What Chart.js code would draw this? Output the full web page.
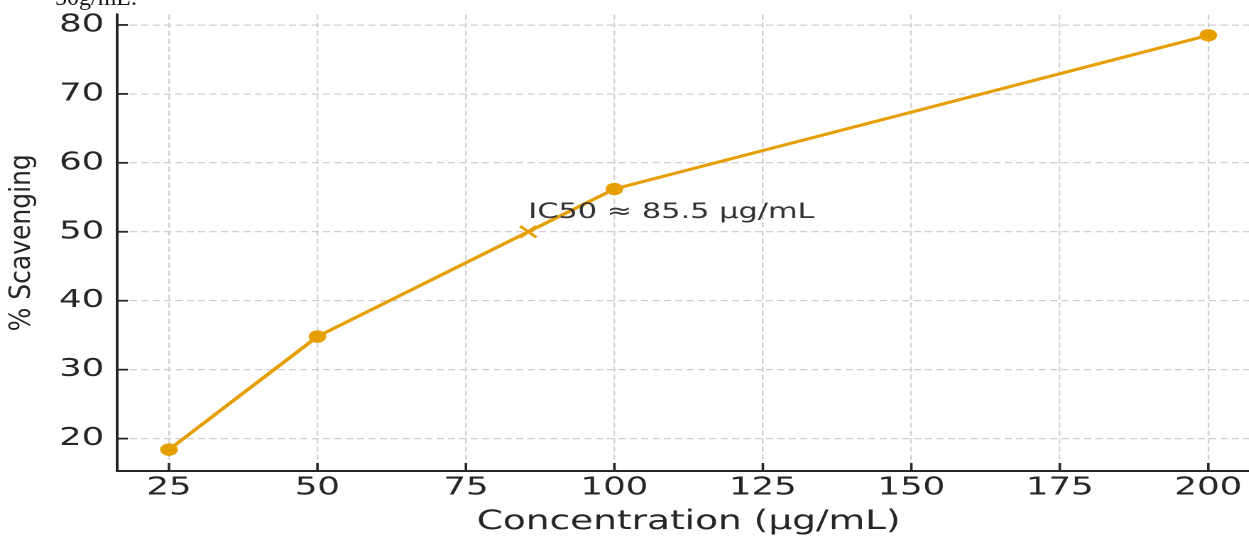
<!DOCTYPE html>
<html>
<head>
<meta charset="utf-8">
<script src="https://cdn.jsdelivr.net/npm/chart.js@4"></script>
<style>
  html, body { margin: 0; padding: 0; background: #fff; overflow: hidden; }
  body { width: 1249px; height: 536px; position: relative; }
  #caption {
    position: absolute; left: 55px; top: -15px; z-index: 2;
    font-family: "Liberation Serif", serif; font-size: 24px; line-height: 24px; color: #111;
  }
  #wrap {
    position: absolute; left: 0; top: 0; width: 898px; height: 536px;
    transform: scaleX(1.42); transform-origin: 0 0;
  }
</style>
</head>
<body>
<div id="caption">50g/mL.</div>
<div id="wrap"><canvas id="scavChart"></canvas></div>
<script>
const concentrations = [25, 50, 100, 200];
const scavenging = [18.4, 34.8, 56.2, 78.5];
const ic50Conc = [85.5];
const ic50Level = [50];
const xTicks = [25, 50, 75, 100, 125, 150, 175, 200];
const yTicks = [20, 30, 40, 50, 60, 70, 80];
const xRange = [16.25, 208.75];
const yRange = [15.3, 81.5];
const ic50Label = "IC50 ≈ 85.5 μg/mL";
const xTitle = "Concentration (μg/mL)";
const yTitle = "% Scavenging";

document.addEventListener("DOMContentLoaded", () => {
  const orange = "#e69f00";
  const ink = "#262626";
  const family = "DejaVu Sans";

  // inward tick marks, y title and the IC50 note
  const extras = {
    id: "extras",
    afterDraw(chart) {
      const { ctx, chartArea } = chart;
      const xs = chart.scales.x;
      const ys = chart.scales.y;
      ctx.save();
      ctx.strokeStyle = ink;
      ctx.lineWidth = 1.8;
      xTicks.forEach((v) => {
        const px = xs.getPixelForValue(v);
        ctx.beginPath();
        ctx.moveTo(px, chartArea.bottom);
        ctx.lineTo(px, chartArea.bottom - 8);
        ctx.stroke();
      });
      yTicks.forEach((v) => {
        const py = ys.getPixelForValue(v);
        ctx.beginPath();
        ctx.moveTo(chartArea.left, py);
        ctx.lineTo(chartArea.left + 7.7, py);
        ctx.stroke();
      });

      ctx.fillStyle = "#333";
      ctx.font = `21.4px "${family}"`;
      ctx.textAlign = "left";
      ctx.textBaseline = "alphabetic";
      ctx.fillText(ic50Label, xs.getPixelForValue(ic50Conc[0]), ys.getPixelForValue(52));

      ctx.translate(15.5, (chartArea.top + chartArea.bottom) / 2);
      ctx.scale(0.81, 1);
      ctx.rotate(-Math.PI / 2);
      ctx.fillStyle = ink;
      ctx.font = `25px "${family}"`;
      ctx.textAlign = "center";
      ctx.textBaseline = "middle";
      ctx.fillText(yTitle, 0, 0);
      ctx.restore();
    },
  };

  const ctx = document.getElementById("scavChart").getContext("2d");
  new Chart(ctx, {
    type: "line",
    data: {
      datasets: [
        {
          data: concentrations.map((c, i) => ({ x: c, y: scavenging[i] })),
          borderColor: orange,
          backgroundColor: orange,
          borderWidth: 3,
          pointRadius: 6.2,
          pointBorderWidth: 0,
          tension: 0,
        },
        {
          data: ic50Conc.map((c, i) => ({ x: c, y: ic50Level[i] })),
          showLine: false,
          pointStyle: "crossRot",
          pointRadius: 8,
          pointBorderWidth: 2.5,
          borderColor: orange,
          backgroundColor: orange,
        },
      ],
    },
    options: {
      responsive: true,
      maintainAspectRatio: false,
      animation: false,
      devicePixelRatio: 2,
      layout: { padding: { top: 14.6, right: 3.4, left: 0, bottom: 0 } },
      plugins: { legend: { display: false }, tooltip: { enabled: false } },
      scales: {
        x: {
          type: "linear",
          min: xRange[0],
          max: xRange[1],
          afterBuildTicks: (s) => {
            s.ticks = xTicks.map((v) => ({ value: v }));
          },
          afterFit: (s) => {
            s.height = 65;
            s.paddingLeft = 0;
            s.paddingRight = 0;
          },
          grid: { color: "#cfcfcf", lineWidth: 1.2, drawTicks: false },
          border: { color: ink, width: 2, dash: [5, 3] },
          ticks: {
            color: ink,
            font: { family: family, size: 25 },
            padding: 2,
            maxRotation: 0,
            autoSkip: false,
          },
          title: {
            display: true,
            text: xTitle,
            color: ink,
            font: { family: family, size: 26.4, lineHeight: 1 },
            padding: { top: 0, bottom: 0.5 },
          },
        },
        y: {
          min: yRange[0],
          max: yRange[1],
          afterBuildTicks: (s) => {
            s.ticks = yTicks.map((v) => ({ value: v }));
          },
          afterFit: (s) => {
            s.width = 82.4;
            s.paddingTop = 0;
            s.paddingBottom = 0;
          },
          grid: { color: "#cfcfcf", lineWidth: 1.2, drawTicks: false },
          border: { color: ink, width: 2, dash: [5, 3] },
          ticks: {
            color: ink,
            font: { family: family, size: 25 },
            padding: 9,
            autoSkip: false,
          },
        },
      },
    },
    plugins: [extras],
  });
});
</script>
</body>
</html>
